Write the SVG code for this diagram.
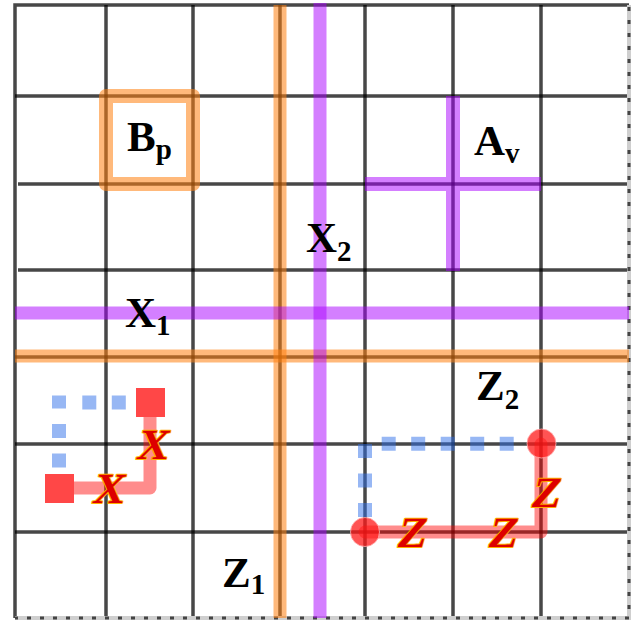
<svg xmlns="http://www.w3.org/2000/svg" width="632" height="620" viewBox="0 0 632 620">
<style>
.grid{stroke:#000;stroke-opacity:0.72;stroke-width:3.5;fill:none}
.edge{stroke:#cfcfcf;stroke-width:4;fill:none}
.edgedash{stroke:#444;stroke-width:3;stroke-dasharray:4 9;fill:none}
.orange{stroke:#ff7f0e;stroke-opacity:0.55;stroke-width:13;fill:none}
.purple{stroke:#aa00ff;stroke-opacity:0.5;stroke-width:13;fill:none}
.pink{stroke:#ff0000;stroke-opacity:0.45;stroke-width:13;fill:none;stroke-linecap:round;stroke-linejoin:round}
.blue{stroke:#2f6fea;stroke-opacity:0.5;stroke-width:14;fill:none;stroke-dasharray:14 15.5}
.lbl{font-family:"Liberation Serif","Times New Roman",serif;font-weight:bold;font-size:43px;fill:#000}
.sub{font-size:29px}
.op{font-family:"Liberation Serif","Times New Roman",serif;font-weight:bold;font-size:43px;fill:#dd0000;stroke:#ffb000;stroke-width:2;paint-order:stroke;stroke-linejoin:round;text-anchor:middle}
</style>
<rect width="632" height="620" fill="#fff"/>
<g id="grid">
<path class="grid" d="M106,5V618M193,5V618M280,5V618M365,5V618M453,5V618M541,5V618"/>
<path class="grid" d="M15,96H629M18,184H629M18,270H629M15,357H629M15,444H629M15,532H629"/>
<path class="grid" d="M15,618V5H629"/>
<path class="edge" d="M629,5V618H15"/>
<path class="edgedash" d="M629,7V618H15"/>
</g>
<g id="connectors">
<path class="orange" d="M280,5V618"/>
<path class="orange" d="M15,356H629"/>
<path class="purple" d="M320,3V618"/>
<path class="purple" d="M15,313H629"/>
<path class="pink" d="M59,488H150V402"/>
<path class="pink" d="M365,532H541V444"/>
<path class="blue" d="M59,467.5V395.5"/>
<path class="blue" d="M82.3,402.5H126"/>
<path class="blue" d="M365,517V443"/>
<path class="blue" d="M381.7,443.7H515"/>
</g>
<g id="Bp">
<rect x="106" y="96" width="87" height="88" fill="none" stroke="#ff7f0e" stroke-opacity="0.55" stroke-width="14" stroke-linejoin="round"/>
<text class="lbl" x="127" y="151">B<tspan class="sub" dy="8">p</tspan></text>
</g>
<g id="Av">
<path class="purple" style="stroke-width:14" d="M365,184H541M453,96V271"/>
<text class="lbl" x="474" y="155">A<tspan class="sub" dy="8">v</tspan></text>
</g>
<g id="X1"><text class="lbl" x="125" y="327">X<tspan class="sub" dy="8">1</tspan></text></g>
<g id="X2"><text class="lbl" x="306" y="252">X<tspan class="sub" dy="9">2</tspan></text></g>
<g id="Z1"><text class="lbl" x="222" y="587">Z<tspan class="sub" dy="7">1</tspan></text></g>
<g id="Z2"><text class="lbl" x="476" y="400">Z<tspan class="sub" dy="9">2</tspan></text></g>
<g id="Xloop">
<rect x="136" y="388" width="29" height="29" fill="#ff4747"/>
<rect x="45" y="474" width="29" height="29" fill="#ff4747"/>
<text class="op" transform="translate(107,503) skewX(-12)">X</text>
<text class="op" transform="translate(151,459) skewX(-12)">X</text>
</g>
<g id="Zloop">
<circle cx="365" cy="532" r="14.5" fill="#ff1a1a" fill-opacity="0.75" stroke="#ffb0b0" stroke-width="0.8"/>
<circle cx="541.5" cy="443.5" r="14.5" fill="#ff1a1a" fill-opacity="0.75" stroke="#ffb0b0" stroke-width="0.8"/>
<text class="op" transform="translate(410,546.5) skewX(-12)">Z</text>
<text class="op" transform="translate(501,546.5) skewX(-12)">Z</text>
<text class="op" transform="translate(544,506.5) skewX(-12)">Z</text>
</g>
</svg>
